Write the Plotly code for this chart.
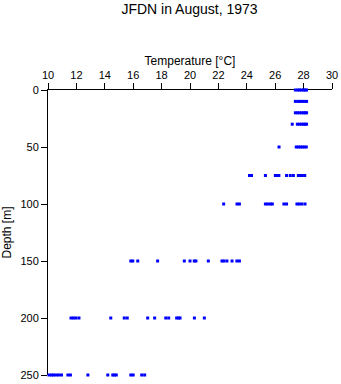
import plotly.graph_objects as go

depth_levels = [0, 10, 20, 30, 50, 75, 100, 150, 200, 250]

temps_0 = [27.42, 27.6, 27.7, 27.85, 28.0, 28.1, 28.21]
temps_10 = [27.42, 27.6, 27.75, 27.9, 28.05, 28.21]
temps_20 = [27.42, 27.55, 27.7, 27.85, 28.0, 28.1, 28.21]
temps_30 = [27.2, 27.56, 27.7, 27.85, 28.0, 28.1, 28.21]
temps_50 = [26.27, 27.48, 27.63, 27.77, 27.91, 28.05, 28.19]
temps_75 = [24.19, 24.33, 25.31, 26.01, 26.15, 26.26, 26.8, 27.06, 27.28,
            27.63, 27.77, 27.91, 28.08]
temps_100 = [22.37, 23.31, 23.48, 25.31, 25.48, 25.66, 25.8, 26.61, 26.8,
             27.53, 27.7, 27.88, 28.1]
temps_150 = [15.83, 15.97, 16.32, 17.72, 19.6, 20.0, 20.3, 20.42, 21.29,
             22.25, 22.39, 22.6, 22.96, 23.3, 23.48]
temps_200 = [11.62, 11.79, 11.97, 12.18, 14.42, 15.37, 15.58, 17.02, 17.51,
             18.29, 18.5, 19.06, 19.2, 19.3, 20.31, 21.01]
temps_250 = [10.07, 10.25, 10.39, 10.56, 10.74, 10.95, 11.4, 11.58, 12.81,
             14.21, 14.56, 14.67, 14.81, 15.83, 16.0, 16.6, 16.81]

temps_by_depth = [temps_0, temps_10, temps_20, temps_30, temps_50,
                  temps_75, temps_100, temps_150, temps_200, temps_250]

x_ticks = [10, 12, 14, 16, 18, 20, 22, 24, 26, 28, 30]
y_ticks = [0, 50, 100, 150, 200, 250]

xs, ys = [], []
for d, ts in zip(depth_levels, temps_by_depth):
    for t in ts:
        xs.append(t)
        ys.append(d)

fig = go.Figure()
fig.add_trace(go.Scatter(
    x=xs, y=ys, mode="markers",
    marker=dict(symbol="square", size=3, color="#0000ff", line=dict(width=0)),
    cliponaxis=False, showlegend=False, hoverinfo="skip",
))

font_family = "Liberation Sans, Arial, Helvetica, sans-serif"
fig.update_layout(
    width=341, height=384,
    margin=dict(l=47.5, r=8.7, t=90, b=8.7),
    paper_bgcolor="white", plot_bgcolor="white",
    font=dict(family=font_family, size=11, color="black"),
    title=dict(text="JFDN in August, 1973", x=189.5/341, xanchor="center",
               xref="container", yref="container", y=1-9/384, yanchor="middle",
               font=dict(size=14, color="black", family=font_family)),
    xaxis=dict(
        side="top", range=[10, 30], tickvals=x_ticks,
        ticktext=[str(v) for v in x_ticks], automargin=False,
        showline=True, linecolor="black", linewidth=1,
        ticks="outside", ticklen=6, tickcolor="black", tickwidth=1,
        showgrid=False, zeroline=False, layer="below traces",
        title=dict(text="Temperature [°C]", font=dict(size=12), standoff=0),
        tickfont=dict(size=11),
    ),
    yaxis=dict(
        range=[250, 0], tickvals=y_ticks, ticktext=[str(v) for v in y_ticks],
        automargin=False,
        showline=True, linecolor="black", linewidth=1,
        ticks="outside", ticklen=6, tickcolor="black", tickwidth=1,
        showgrid=False, zeroline=False, layer="below traces",
        title=dict(text="Depth [m]", font=dict(size=12), standoff=6),
        tickfont=dict(size=11),
    ),
)

fig.write_html("out.html")
